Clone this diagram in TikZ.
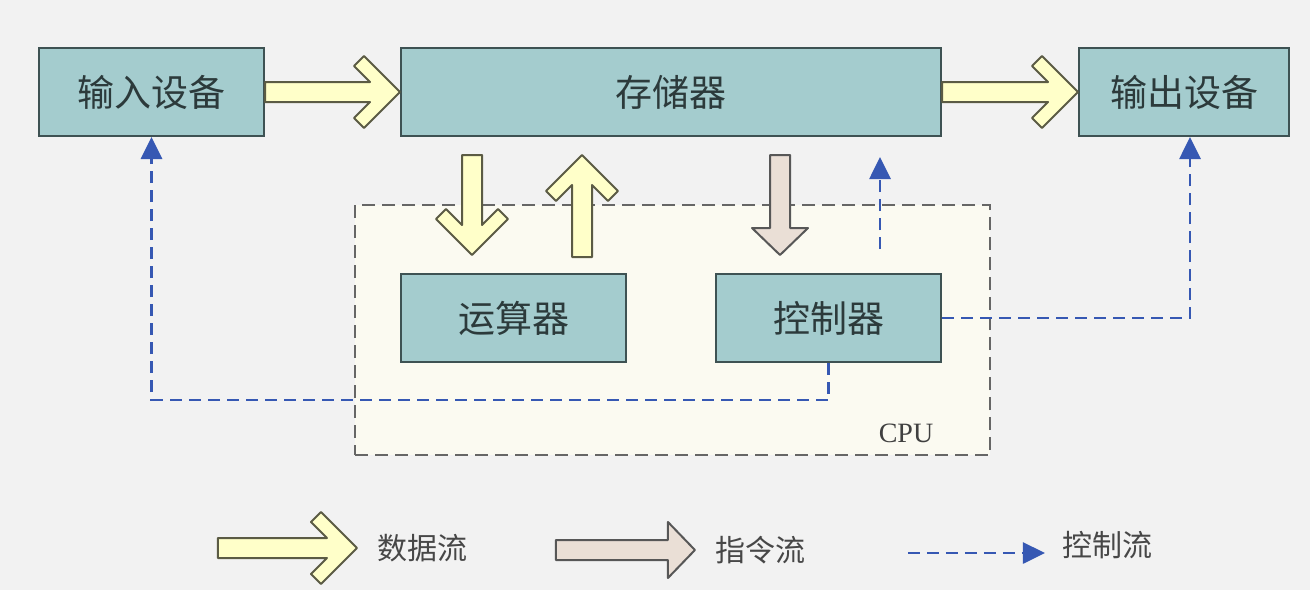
\documentclass[tikz,border=0pt]{standalone}
\usepackage{fontspec}
\usepackage{tikz}
\usetikzlibrary{arrows.meta, positioning, fit, backgrounds, calc}
\newfontfamily\cjk{Noto Sans CJK SC}
\newfontfamily\cpufont{Liberation Serif}
\definecolor{boxteal}{HTML}{A4CCCE}
\definecolor{boxedge}{HTML}{3E5253}
\definecolor{datayellow}{HTML}{FFFFC9}
\definecolor{dataedge}{HTML}{5B5B44}
\definecolor{instrbeige}{HTML}{EADFD6}
\definecolor{instredge}{HTML}{575757}
\definecolor{ctrlblue}{HTML}{3658B3}
\definecolor{cpucream}{HTML}{FBFAF1}
\definecolor{pagegray}{HTML}{F2F2F2}
\definecolor{textdark}{HTML}{2C3A3B}

% block arrows: #1 tip, #2 direction, #3 length
\newcommand{\datarrow}[3]{%
  \draw[dataflow, shift={(#1)}, rotate=#2] (0,0) -- (-18pt,18pt) -- (-23pt,13pt) -- (-15pt,5pt) -- (-#3,5pt) -- (-#3,-5pt) -- (-15pt,-5pt) -- (-23pt,-13pt) -- (-18pt,-18pt) -- cycle;}
\newcommand{\instrarrow}[3]{%
  \draw[instrflow, shift={(#1)}, rotate=#2] (0,0) -- (-13.5pt,14pt) -- (-13.5pt,5pt) -- (-#3,5pt) -- (-#3,-5pt) -- (-13.5pt,-5pt) -- (-13.5pt,-14pt) -- cycle;}

\begin{document}
\begin{tikzpicture}[
    unit/.style={draw=boxedge, line width=1.2pt, fill=boxteal, minimum height=43.8pt, font=\cjk\fontsize{18.5pt}{22pt}\selectfont, text=textdark},
    dataflow/.style={draw=dataedge, line width=1pt, fill=datayellow, line join=round},
    instrflow/.style={draw=instredge, line width=1pt, fill=instrbeige, line join=round},
    ctrlflow/.style={ctrlblue, line width=1.4pt, dash pattern=on 6pt off 3.5pt, -{Triangle[length=11pt,width=10.5pt]}},
    legend/.style={font=\cjk\fontsize{15pt}{18pt}\selectfont, text=black!72},
]
    % Units
    \node[unit, minimum width=112.3pt] (inp) at (75.75pt,-46pt) {输入设备};
    \node[unit, minimum width=269.8pt, right=67.5pt of inp] (mem) {存储器};
    \node[unit, minimum width=104.8pt, right=68pt of mem] (out) {输出设备};
    \node[unit, minimum width=112.3pt, below=68pt of mem.south west, anchor=north west] (alu) {运算器};
    \node[unit, minimum width=112.3pt, right=44pt of alu] (ctl) {控制器};

    % CPU frame
    \coordinate (cputl) at ([shift={(-22.5pt,34pt)}]alu.north west);
    \coordinate (cpubr) at ([shift={(24pt,-46pt)}]ctl.south east);
    \begin{scope}[on background layer]
        \fill[pagegray] (0,0) rectangle (655pt,-295pt);
        \node[fit=(cputl)(cpubr), inner sep=0pt, draw=black!60, line width=1pt, dash pattern=on 6.5pt off 3.5pt, fill=cpucream] (cpu) {};
    \end{scope}
    \node[font=\cpufont\fontsize{14pt}{16pt}\selectfont, text=black!75] at ([shift={(-42.5pt,11.5pt)}]cpu.south east) (cpulabel) {CPU};

    % Data and instruction flow
    \datarrow{mem.west}{0}{67.5pt}
    \datarrow{out.west}{0}{68pt}
    \datarrow{[shift={(36pt,9pt)}]alu.north west}{-90}{50pt}
    \datarrow{[shift={(91pt,-9pt)}]mem.south west}{90}{51pt}
    \instrarrow{[shift={(32.5pt,9pt)}]ctl.north west}{-90}{50pt}

    % Control flow
    \coordinate (ctlup) at ([xshift=25.75pt]ctl.north);
    \draw[ctrlflow] (ctl.south) -- ++(0,-18.5pt) -| (inp.south);
    \draw[ctrlflow] (ctl.east) -| ([xshift=3pt]out.south);
    \draw[ctrlflow, shorten <=12pt, shorten >=10pt] (ctlup) -- (ctlup |- mem.south);

    % Legend
    \node[legend] (lgdata) at (211pt,-274pt) {数据流};
    \node[legend] (lginstr) at (380pt,-275pt) {指令流};
    \node[legend] (lgctrl) at (553.5pt,-272.5pt) {控制流};
    \datarrow{[xshift=-6.5pt]lgdata.west}{0}{69.5pt}
    \instrarrow{[xshift=-6.5pt]lginstr.west}{0}{69.5pt}
    \draw[ctrlflow] ([shift={(-73.5pt,-4pt)}]lgctrl.west) -- ([shift={(-5pt,-4pt)}]lgctrl.west);

\end{tikzpicture}
\end{document}
